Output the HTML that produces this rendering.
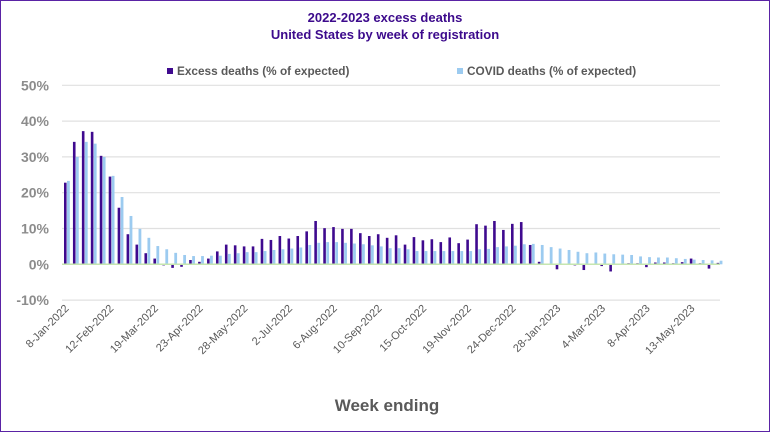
<!DOCTYPE html>
<html><head><meta charset="utf-8"><style>
body{margin:0;background:#fff}
svg{display:block;font-family:"Liberation Sans",Arial,sans-serif}
</style></head><body>
<svg id="c" width="770" height="432" viewBox="0 0 770 432">
<rect x="0.5" y="0.5" width="769" height="431" fill="#fff" stroke="#5a23a5" stroke-width="1"/>
<text x="385" y="22" text-anchor="middle" font-size="13" font-weight="bold" fill="#3c0a8c">2022-2023 excess deaths</text>
<text x="385" y="39" text-anchor="middle" font-size="13" font-weight="bold" fill="#3c0a8c">United States by week of registration</text>
<rect x="167" y="68" width="6" height="6" fill="#3f0a8f"/>
<text x="177" y="75" font-size="11.8" font-weight="bold" fill="#595959">Excess deaths (% of expected)</text>
<rect x="457" y="68" width="6" height="6" fill="#9ccbf0"/>
<text x="467" y="75" font-size="11.8" font-weight="bold" fill="#595959">COVID deaths (% of expected)</text>
<g id="grid"></g>
<g id="bars"></g>
<g id="labels" font-size="11" fill="#595959"></g>
<text x="387" y="411" text-anchor="middle" font-size="17" font-weight="bold" fill="#595959">Week ending</text>
</svg>
<script>
var NS="http://www.w3.org/2000/svg";
function el(p,t,a,txt){var e=document.createElementNS(NS,t);for(var k in a)e.setAttribute(k,a[k]);if(txt!=null)e.textContent=txt;document.getElementById(p).appendChild(e);}
var y0=264.3,ppc=3.58;
for(var v=-10;v<=50;v+=10){var y=y0-v*ppc;
 if(v!=0)el("grid","line",{x1:62,x2:720,y1:y,y2:y,stroke:"#e0e0e0","stroke-width":1.2});
 el("grid","text",{x:49,y:y+5,"text-anchor":"end","font-size":"14","font-weight":"bold",fill:"#8c8c8c"},v+"%");}
var ex=[22.8,34.2,37.2,37,30.3,24.5,15.8,8.4,5.5,3.1,1.6,-0.3,-1,-0.7,1.2,0.7,1.6,3.6,5.5,5.3,5,5,7.1,6.8,7.9,7.2,7.9,9.2,12.1,10.1,10.4,9.9,9.9,8.7,7.9,8.4,
7.4,8.1,5.5,7.6,6.7,7,6.2,7.5,5.9,6.9,11.2,10.8,12.1,9.6,11.3,11.8,5.4,0.7,0,-1.4,0,-0.3,-1.6,0,-0.5,-2,0.1,0.3,0.3,-0.8,0.5,0.5,0.3,0.6,1.6,0.3,-1.2,0.4];
var cv=[23.3,30,34.2,33.7,30,24.7,18.8,13.5,9.9,7.4,5.1,4.2,3.2,2.6,2.3,2.3,2.4,2.4,2.9,3.1,3.4,3.4,3.7,4,4.2,4.4,4.7,5.4,6,6.2,6.2,6,5.8,5.6,
5.3,5,4.5,4.5,4.2,3.7,3.7,3.7,3.7,3.7,3.7,3.7,4.2,4.3,4.8,5,5.2,5.6,5.7,5.4,4.8,4.4,4,3.5,3.1,3.3,3,2.8,2.7,2.6,2.2,2,1.9,1.9,1.7,1.5,1.3,1.2,1.1,1];
var sw=8.94,x0=62.5;
for(var i=0;i<74;i++){var x=x0+sw*i+1.5;
 var v=ex[i],h=Math.abs(v)*ppc;el("bars","rect",{x:x,y:v>=0?y0-h:y0,width:2.6,height:Math.max(h,0.3),fill:"#3f0a8f"});
 v=cv[i];h=v*ppc;el("bars","rect",{x:x+3,y:y0-h,width:2.8,height:h,fill:"#9ccbf0"});}
el("bars","line",{x1:62,x2:720,y1:y0,y2:y0,stroke:"#c6e6b0","stroke-width":1.5});
var labs=["8-Jan-2022","12-Feb-2022","19-Mar-2022","23-Apr-2022","28-May-2022","2-Jul-2022","6-Aug-2022","10-Sep-2022","15-Oct-2022","19-Nov-2022","24-Dec-2022","28-Jan-2023","4-Mar-2023","8-Apr-2023","13-May-2023"];
for(var j=0;j<labs.length;j++){var x=x0+sw*5*j+7,y=309;
 el("labels","text",{x:x,y:y,"text-anchor":"end",transform:"rotate(-45 "+x+" "+y+")"},labs[j]);}
</script>
</body></html>
